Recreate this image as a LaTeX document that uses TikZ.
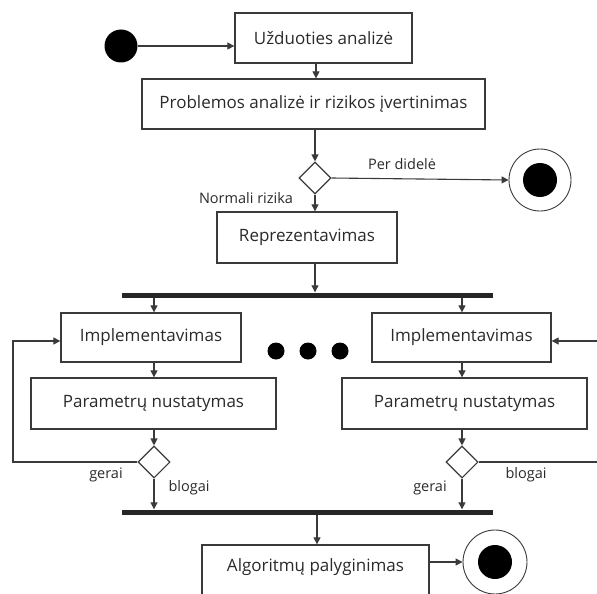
\documentclass[tikz,border=0pt]{standalone}
\usepackage{fontspec}
\setmainfont{Open Sans}
\usetikzlibrary{shapes.geometric,arrows.meta,calc}
\definecolor{ln}{HTML}{3A3A3A}
\definecolor{tx}{HTML}{2A2A2A}
\begin{document}
\begin{tikzpicture}[x=1pt,y=-1pt,
  box/.style={draw=ln,line width=1.3pt,rectangle,inner sep=0pt,text=tx,font=\fontsize{17}{19}\selectfont},
  dec/.style={draw=ln,line width=1.1pt,diamond,aspect=1,minimum width=32,minimum height=32,inner sep=0pt},
  bar/.style={fill=black!85,rectangle,minimum height=5,inner sep=0pt},
  startdot/.style={circle,fill=black,minimum size=33,inner sep=0pt},
  endout/.style={circle,draw=ln,line width=0.9pt,fill=white,inner sep=0pt},
  dotsty/.style={circle,fill=black,minimum size=17,inner sep=0pt},
  lbl/.style={text=tx,font=\fontsize{14.5}{16}\selectfont,inner sep=0pt},
  arr/.style={draw=ln,line width=1.1pt,-{Triangle[length=7pt,width=7pt]}},
  ln/.style={draw=ln,line width=1.1pt}]
\useasboundingbox (0,0) rectangle (597,594);
\clip (0,0) rectangle (597,594);
% nodes
\node[startdot] (start) at (121,46) {};
\node[box,minimum width=177,minimum height=50] (uzd) at (323.5,38) {Užduoties analizė};
\node[box,minimum width=343,minimum height=50] (prob) at (313.5,104) {Problemos analizė ir rizikos įvertinimas};
\node[dec] (d1) at (315,178) {};
\node[endout,minimum size=62] (end1) at (540,180) {};
\node[startdot,minimum size=34] (end1in) at (540,180) {};
\node[box,minimum width=180,minimum height=51] (rep) at (307,237.5) {Reprezentavimas};
\node[bar,minimum width=371] (bar1) at (307.5,295) {};
\node[box,minimum width=180,minimum height=49] (implL) at (151,337.5) {Implementavimas};
\node[box,minimum width=179,minimum height=49] (implR) at (461.5,337.5) {Implementavimas};
\node[box,minimum width=245,minimum height=51] (parL) at (153.5,403.5) {Parametrų nustatymas};
\node[box,minimum width=245,minimum height=51] (parR) at (464.5,403.5) {Parametrų nustatymas};
\node[dec] (dL) at (154,462) {};
\node[dec] (dR) at (462,462) {};
\node[bar,minimum width=371] (bar2) at (307.5,512) {};
\node[box,minimum width=227,minimum height=60] (algo) at (315.5,575) {};
\node[text=tx,font=\fontsize{17}{19}\selectfont,inner sep=0pt] (algot) at (315.5,567) {Algoritmų palyginimas};
\node[endout,minimum size=64] (end2) at (495,562) {};
\node[startdot,minimum size=34] (end2in) at (495,562) {};
\node[dotsty] (dot1) at (276,351) {};
\node[dotsty] (dot2) at (308,351) {};
\node[dotsty] (dot3) at (340,351) {};
% labels
\node[lbl] (lpd) at (402,164) {Per didelė};
\node[lbl] (lnr) at (246,198) {Normali rizika};
\node[lbl] (lgL) at (106,475) {gerai};
\node[lbl] (lbL) at (189,488) {blogai};
\node[lbl] (lgR) at (430,488) {gerai};
\node[lbl] (lbR) at (526,475) {blogai};
% coordinates
\coordinate (lx) at (13,341);
\coordinate (rx1) at (605,462);
\coordinate (rx2) at (605,341);
% connectors
\draw[arr] (start) -- (uzd.west |- start);
\draw[arr] (uzd.south -| 316,0) -- (prob.north -| 316,0);
\draw[arr] (prob.south -| d1) -- (d1.north);
\draw[arr] (d1.east) -- (end1.west);
\draw[arr] (d1.south) -- (rep.north -| d1);
\draw[arr] (rep.south -| d1) -- (bar1.north -| d1);
\draw[arr] (bar1.south -| dL) -- (implL.north -| dL);
\draw[arr] (bar1.south -| dR) -- (implR.north -| dR);
\draw[arr] (implL.south -| dL) -- (parL.north -| dL);
\draw[arr] (implR.south -| dR) -- (parR.north -| dR);
\draw[arr] (parL.south -| dL) -- (dL.north);
\draw[arr] (parR.south -| dR) -- (dR.north);
\draw[arr] (dL.west) -| (lx) -- (implL.west |- lx);
\draw[ln] (dR.east) -- (rx1) -- (rx2);
\draw[arr] (rx2) -- (implR.east |- rx2);
\draw[arr] (dL.south) -- (bar2.north -| dL);
\draw[arr] (dR.south) -- (bar2.north -| dR);
\draw[arr] (bar2.south -| 317,0) -- (algo.north -| 317,0);
\draw[arr] (end2.west -| algo.east) -- (end2.west);
\end{tikzpicture}
\end{document}
